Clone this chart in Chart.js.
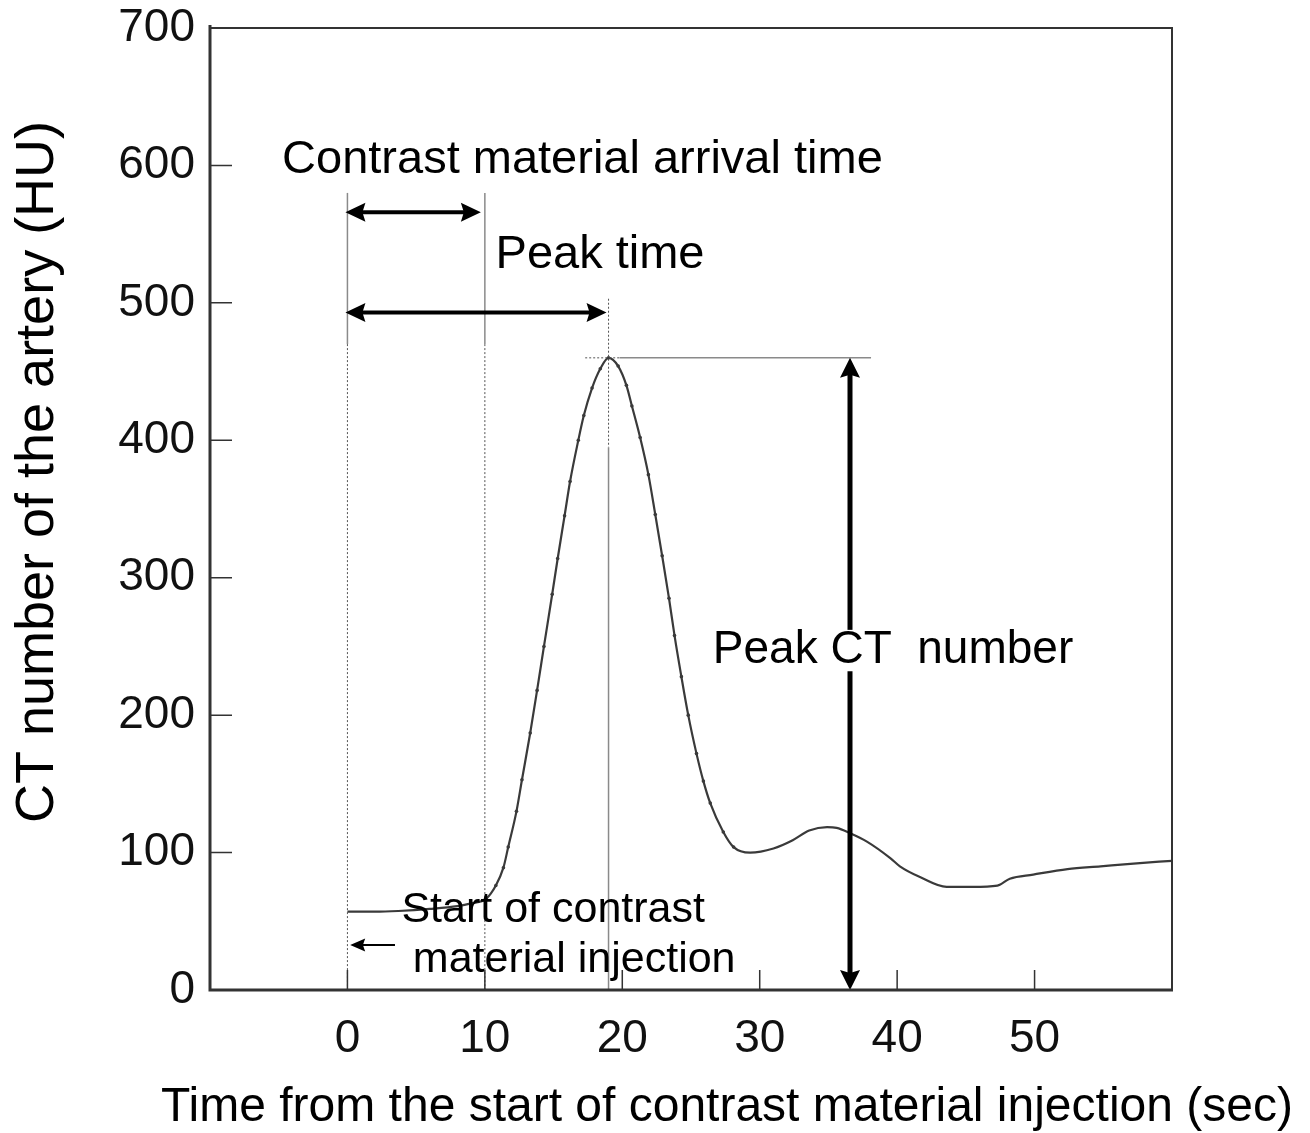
<!DOCTYPE html>
<html lang="en">
<head>
  <meta charset="UTF-8" />
  <title>Time-density curve of the artery</title>
  <script src="https://cdn.jsdelivr.net/npm/chart.js"></script>
  <style>
    body { margin: 0; background: #fff; }
    canvas { display: block; }
  </style>
</head>
<body>
  <canvas id="chart" width="1310" height="1133"></canvas>

  <script>
    // Time-density curve
    const timeSec = [0, 2, 3.7, 6, 8, 9, 10.1, 10.8, 11.35, 11.7, 12.3, 12.7, 13.3, 13.8, 14.3, 14.9,
      15.3, 15.8, 16.2, 16.8, 17.2, 17.8, 18.4, 19.0, 19.7, 20.3, 20.7, 21.3, 21.9, 22.4, 22.9,
      23.4, 23.8, 24.3, 24.8, 25.4, 25.9, 26.4, 27.35, 28.1, 29.3, 31.0, 32.4, 33.6, 34.9, 35.6,
      36.6, 37.8, 39.5, 40.2, 41.7, 43.6, 45.5, 47.3, 48.2, 49.9, 52.4, 54.8, 57.2, 60];
    const ctHU = [57, 57, 57.5, 59, 61, 63, 66.5, 76, 89, 104, 130, 153, 187, 218, 250, 288,
      314, 345, 370, 400, 418, 438, 452, 460, 454, 440, 425, 402, 375, 346, 316,
      285, 258, 228, 200, 172, 152, 136, 115, 104, 100, 103, 109, 116, 118.5, 118,
      114, 108, 96, 90, 82, 75, 75, 76, 81, 84, 88, 90, 92, 94];

    const xTickValues = [0, 10, 20, 30, 40, 50];
    const yTickValues = [100, 200, 300, 400, 500, 600];

    // key values marked on the curve
    const arrivalTime = 10;
    const peakTime = 19;
    const peakHU = 460;

    const FONT = "'Liberation Sans', Arial, sans-serif";

    function arrowHead(ctx, x, y, ang, len, half) {
      ctx.save();
      ctx.translate(x, y);
      ctx.rotate(ang);
      ctx.beginPath();
      ctx.moveTo(0, 0);
      ctx.lineTo(-len, -half);
      ctx.lineTo(-len * 0.85, 0);
      ctx.lineTo(-len, half);
      ctx.closePath();
      ctx.fill();
      ctx.restore();
    }

    function arrow(ctx, x1, y1, x2, y2, width, len, half, both) {
      const ang = Math.atan2(y2 - y1, x2 - x1);
      const dx = Math.cos(ang) * len * 0.8, dy = Math.sin(ang) * len * 0.8;
      ctx.lineWidth = width;
      ctx.beginPath();
      ctx.moveTo(both ? x1 + dx : x1, both ? y1 + dy : y1);
      ctx.lineTo(x2 - dx, y2 - dy);
      ctx.stroke();
      arrowHead(ctx, x2, y2, ang, len, half);
      if (both) arrowHead(ctx, x1, y1, ang + Math.PI, len, half);
    }

    function vline(ctx, px, yTop, yBot, dotted) {
      ctx.save();
      ctx.lineWidth = dotted ? 1 : 1.5;
      ctx.strokeStyle = dotted ? '#555' : '#8a8a8a';
      ctx.setLineDash(dotted ? [2, 2] : []);
      ctx.beginPath();
      ctx.moveTo(px, yTop);
      ctx.lineTo(px, yBot);
      ctx.stroke();
      ctx.restore();
    }

    function hline(ctx, x1, x2, py, dotted) {
      ctx.save();
      ctx.lineWidth = dotted ? 1 : 1.5;
      ctx.strokeStyle = dotted ? '#555' : '#8a8a8a';
      ctx.setLineDash(dotted ? [2, 2] : []);
      ctx.beginPath();
      ctx.moveTo(x1, py);
      ctx.lineTo(x2, py);
      ctx.stroke();
      ctx.restore();
    }

    function label(ctx, text, px, py, size, boxed) {
      ctx.font = size + 'px ' + FONT;
      ctx.textAlign = 'center';
      ctx.textBaseline = 'middle';
      if (boxed) {
        const w = ctx.measureText(text).width;
        ctx.fillStyle = '#fff';
        ctx.fillRect(px - w / 2 - 4, py - size * 0.45, w + 8, size * 0.9);
      }
      ctx.fillStyle = '#000';
      ctx.fillText(text, px, py);
    }

    const overlay = {
      id: 'overlay',
      afterDatasetsDraw(chart) {
        const { ctx, chartArea: a, scales: { x, y } } = chart;
        ctx.save();

        // guide lines
        const x0 = x.getPixelForValue(0);
        const x10 = x.getPixelForValue(arrivalTime);
        const xPk = x.getPixelForValue(peakTime);
        const yb = y.getPixelForValue(0);
        vline(ctx, x0, y.getPixelForValue(580), y.getPixelForValue(470), false);
        vline(ctx, x0, y.getPixelForValue(470), yb, true);
        vline(ctx, x10, y.getPixelForValue(580), y.getPixelForValue(470), false);
        vline(ctx, x10, y.getPixelForValue(470), yb, true);
        vline(ctx, xPk, y.getPixelForValue(503), y.getPixelForValue(395), true);
        vline(ctx, xPk, y.getPixelForValue(395), yb, false);
        const yPk = y.getPixelForValue(peakHU);
        hline(ctx, x.getPixelForValue(17.3), x.getPixelForValue(19.8), yPk, true);
        hline(ctx, x.getPixelForValue(19.8), x.getPixelForValue(38.1), yPk, false);

        // arrows
        ctx.fillStyle = '#000';
        ctx.strokeStyle = '#000';
        const yA1 = y.getPixelForValue(566);
        arrow(ctx, x0 - 2, yA1, x10 - 4, yA1, 4, 20, 9.5, true);
        const yA2 = y.getPixelForValue(493);
        arrow(ctx, x0 - 2, yA2, xPk - 2, yA2, 4, 20, 9.5, true);
        const xV = x.getPixelForValue(36.57);
        arrow(ctx, xV, yb, xV, yPk, 5, 20, 10, true);
        const yS = y.getPixelForValue(32.7);
        arrow(ctx, x.getPixelForValue(3.46), yS, x.getPixelForValue(0.2), yS, 2, 15, 6.5, false);

        // texts
        label(ctx, 'Contrast material arrival time', x.getPixelForValue(17.1), y.getPixelForValue(604), 47);
        label(ctx, 'Peak time', x.getPixelForValue(18.38), y.getPixelForValue(535), 47);
        label(ctx, 'Peak CT  number', x.getPixelForValue(39.7), y.getPixelForValue(247), 46, true);
        label(ctx, 'Start of contrast', x.getPixelForValue(14.97), y.getPixelForValue(58), 43);
        label(ctx, 'material injection', x.getPixelForValue(16.5), y.getPixelForValue(22), 43);

        // inward tick marks
        ctx.strokeStyle = '#333';
        ctx.lineWidth = 1.5;
        ctx.beginPath();
        xTickValues.forEach(v => {
          const px = x.getPixelForValue(v);
          ctx.moveTo(px, a.bottom);
          ctx.lineTo(px, a.bottom - 20);
        });
        yTickValues.forEach(v => {
          const py = y.getPixelForValue(v);
          ctx.moveTo(a.left, py);
          ctx.lineTo(a.left + 22, py);
        });
        ctx.stroke();

        // frame
        ctx.strokeStyle = '#333';
        ctx.lineWidth = 2;
        ctx.strokeRect(a.left, a.top, a.right - a.left, a.bottom - a.top);
        ctx.lineWidth = 3;
        ctx.beginPath();
        ctx.moveTo(a.left, a.top - 3);
        ctx.lineTo(a.left, a.bottom);
        ctx.lineTo(a.right + 1, a.bottom);
        ctx.stroke();

        // axis titles
        ctx.fillStyle = '#000';
        ctx.font = '48px ' + FONT;
        ctx.textAlign = 'center';
        ctx.textBaseline = 'middle';
        ctx.fillText('Time from the start of contrast material injection (sec)', 727, 1108);
        ctx.save();
        ctx.translate(38, 472);
        ctx.rotate(-Math.PI / 2);
        ctx.font = '54px ' + FONT;
        ctx.fillText('CT number of the artery (HU)', 0, 0);
        ctx.restore();

        ctx.restore();
      }
    };

    const points = timeSec.map((t, i) => ({ x: t, y: ctHU[i] }));

    new Chart(document.getElementById('chart').getContext('2d'), {
      type: 'line',
      data: {
        datasets: [{
          data: points,
          borderColor: '#3a3a3a',
          borderWidth: 2.2,
          backgroundColor: '#3a3a3a',
          pointRadius: c => (c.raw && c.raw.x > 10 && c.raw.x < 29) ? 1.8 : 0,
          pointBorderWidth: 0,
          cubicInterpolationMode: 'monotone',
          fill: false
        }]
      },
      options: {
        responsive: false,
        animation: false,
        layout: { padding: { top: 28, right: 138, left: 0, bottom: 0 } },
        plugins: { legend: { display: false }, tooltip: { enabled: false } },
        scales: {
          x: {
            type: 'linear',
            min: -10,
            max: 60,
            grid: { display: false, drawTicks: false },
            border: { display: false },
            ticks: {
              stepSize: 10,
              padding: 22,
              color: '#111',
              font: { family: FONT, size: 46 },
              maxRotation: 0,
              callback: v => (v < 0 || v > 50) ? '' : v
            },
            afterFit: s => { s.height = 143; s.paddingLeft = 0; s.paddingRight = 0; }
          },
          y: {
            min: 0,
            max: 700,
            grid: { display: false, drawTicks: false },
            border: { display: false },
            ticks: {
              stepSize: 100,
              padding: 15,
              color: '#111',
              font: { family: FONT, size: 46 }
            },
            afterFit: s => { s.width = 210; s.paddingTop = 0; s.paddingBottom = 0; }
          }
        }
      },
      plugins: [overlay]
    });
  </script>
</body>
</html>
